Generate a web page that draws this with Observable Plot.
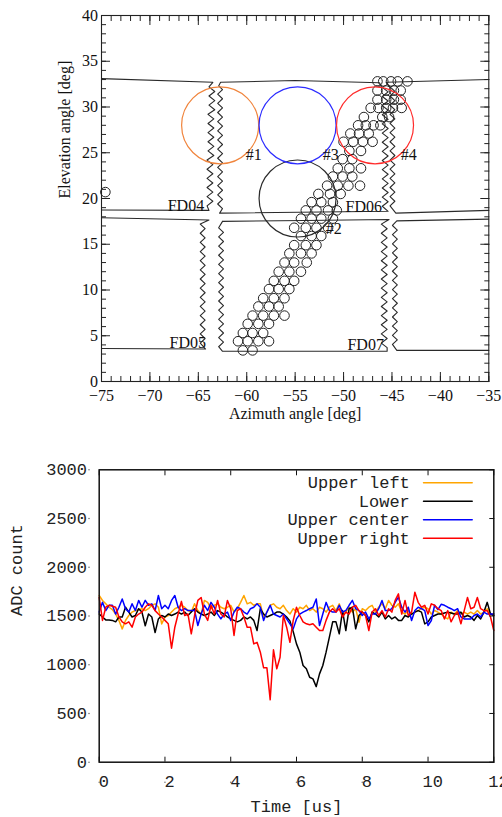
<!DOCTYPE html>
<html><head><meta charset="utf-8">
<script src="https://cdn.jsdelivr.net/npm/d3@7"></script>
<script src="https://cdn.jsdelivr.net/npm/@observablehq/plot@0.6"></script>
<style>
html,body{margin:0;padding:0;background:#fff;overflow:hidden;}
#top,#bottom{width:502px;}
svg{display:block;}
</style></head><body>
<div id="top"></div><div id="bottom"></div>
<script>
// ---------- Top panel data: FD camera outlines (azimuth, elevation in deg) ----------
const fd04Outline = [[-75,33.1],[-63.5,32.7],
 [-63.9,32.2],[-63.3,31.7],[-63.9,31.2],[-63.3,30.7],[-63.9,30.2],[-63.3,29.7],[-64.0,29.2],[-63.4,28.7],[-64.0,28.2],[-63.4,27.7],[-64.0,27.2],[-63.4,26.7],[-64.0,26.2],[-63.4,25.7],[-64.0,25.2],[-63.4,24.7],[-64.1,24.2],[-63.5,23.7],[-64.1,23.2],[-63.5,22.7],[-64.1,22.2],[-63.5,21.7],[-64.1,21.2],[-63.5,20.7],[-64.1,20.2],[-63.5,19.7],[-64.1,19.2],
 [-63.9,18.7],[-75,18.75]];
const fd05Outline = [[-75,17.9],[-63.9,17.65],
 [-64.8,17.2],[-64.3,16.7],[-64.8,16.2],[-64.3,15.7],[-64.8,15.2],[-64.3,14.7],[-64.8,14.2],[-64.3,13.7],[-64.8,13.2],[-64.3,12.7],[-64.8,12.2],[-64.3,11.7],[-64.8,11.2],[-64.3,10.7],[-64.8,10.2],[-64.3,9.7],[-64.8,9.2],[-64.3,8.7],[-64.8,8.2],[-64.3,7.7],[-64.8,7.2],[-64.3,6.7],[-64.8,6.2],[-64.3,5.7],[-64.8,5.2],[-64.3,4.7],[-64.8,4.2],
 [-64.25,3.55],[-75,3.6]];
const fd06Outline = [[-62.7,32.7],[-55,32.9],[-46.3,32.65],
 [-46.0,32.15],[-45.4,31.65],[-46.0,31.15],[-45.4,30.65],[-46.0,30.15],[-45.4,29.65],[-46.0,29.15],[-45.4,28.65],[-46.0,28.15],[-45.4,27.65],[-46.0,27.15],[-45.4,26.65],[-46.0,26.15],[-45.4,25.65],[-46.0,25.15],[-45.4,24.65],[-46.0,24.15],[-45.4,23.65],[-46.0,23.15],[-45.4,22.65],[-46.0,22.15],[-45.4,21.65],[-46.0,21.15],[-45.4,20.65],[-46.0,20.15],[-45.4,19.65],[-46.0,19.15],
 [-45.4,18.6],[-62.8,18.4],
 [-62.5,18.9],[-63.0,19.4],[-62.5,19.9],[-63.0,20.4],[-62.5,20.9],[-63.0,21.4],[-62.5,21.9],[-63.0,22.4],[-62.5,22.9],[-63.0,23.4],[-62.5,23.9],[-63.0,24.4],[-62.5,24.9],[-63.0,25.4],[-62.5,25.9],[-63.0,26.4],[-62.5,26.9],[-63.0,27.4],[-62.5,27.9],[-63.0,28.4],[-62.5,28.9],[-63.0,29.4],[-62.5,29.9],[-63.0,30.4],[-62.5,30.9],[-63.0,31.4],[-62.5,31.9],[-62.9,32.3],[-62.7,32.7]];
const fd07Outline = [[-62.5,17.5],[-54,17.6],[-45.3,17.7],
 [-46.1,17.2],[-45.5,16.7],[-46.1,16.2],[-45.5,15.7],[-46.1,15.2],[-45.5,14.7],[-46.1,14.2],[-45.5,13.7],[-46.1,13.2],[-45.5,12.7],[-46.1,12.2],[-45.5,11.7],[-46.1,11.2],[-45.5,10.7],[-46.1,10.2],[-45.5,9.7],[-46.1,9.2],[-45.5,8.7],[-46.1,8.2],[-45.5,7.7],[-46.1,7.2],[-45.5,6.7],[-46.1,6.2],[-45.5,5.7],[-46.1,5.2],[-45.5,4.7],[-46.1,4.2],[-45.5,3.7],
 [-45.5,3.3],[-62.5,3.3],
 [-62.9,3.8],[-62.4,4.3],[-62.9,4.8],[-62.4,5.3],[-62.9,5.8],[-62.4,6.3],[-62.9,6.8],[-62.4,7.3],[-62.9,7.8],[-62.4,8.3],[-62.9,8.8],[-62.4,9.3],[-62.9,9.8],[-62.4,10.3],[-62.9,10.8],[-62.4,11.3],[-62.9,11.8],[-62.4,12.3],[-62.9,12.8],[-62.4,13.3],[-62.9,13.8],[-62.4,14.3],[-62.9,14.8],[-62.4,15.3],[-62.9,15.8],[-62.4,16.3],[-62.9,16.8],[-62.5,17.5]];
const rightUpperOutline = [[-35,33.0],[-45.6,32.7],
 [-45.2,32.2],[-44.7,31.7],[-45.2,31.2],[-44.7,30.7],[-45.2,30.2],[-44.7,29.7],[-45.2,29.2],[-44.7,28.7],[-45.2,28.2],[-44.7,27.7],[-45.2,27.2],[-44.7,26.7],[-45.2,26.2],[-44.7,25.7],[-45.2,25.2],[-44.7,24.7],[-45.2,24.2],[-44.7,23.7],[-45.2,23.2],[-44.7,22.7],[-45.2,22.2],[-44.7,21.7],[-45.2,21.2],[-44.7,20.7],[-45.2,20.2],[-44.7,19.7],[-45.2,19.2],
 [-44.6,18.4],[-35,18.7]];
const rightLowerOutline = [[-35,17.75],[-44.5,17.55],
 [-44.95,17.05],[-44.45,16.55],[-44.95,16.05],[-44.45,15.55],[-44.95,15.05],[-44.45,14.55],[-44.95,14.05],[-44.45,13.55],[-44.95,13.05],[-44.45,12.55],[-44.95,12.05],[-44.45,11.55],[-44.95,11.05],[-44.45,10.55],[-44.95,10.05],[-44.45,9.55],[-44.95,9.05],[-44.45,8.55],[-44.95,8.05],[-44.45,7.55],[-44.95,7.05],[-44.45,6.55],[-44.95,6.05],[-44.45,5.55],[-44.95,5.05],[-44.45,4.55],[-44.95,4.05],
 [-44.5,3.4],[-35,3.4]];

const fdNames = ["FD04","FD06","FD05","FD07"];
const fdNameAz = [-64.4,-49.8,-64.2,-49.6];
const fdNameEl = [19.2,19.1,4.2,4.05];
const fdNameAnchor = ["end","start","end","start"];

// hit PMTs of the track, per row of elevation
const hitRowEl = [3.4,4.4,5.3,6.3,7.2,8.2,9.1,10.1,11.0,12.0,13.0,14.0,14.9,15.9,16.8,17.8,18.7,19.6,20.5,21.4,22.4,23.3,24.3,25.2,26.2,27.1,28.0,28.9,29.9,30.8,31.8,32.8,20.7];
const hitRowAz = [
 [-60.4,-59.4],
 [-60.9,-59.9,-58.8,-57.7],
 [-60.4,-59.4,-58.3],
 [-59.9,-58.8,-57.7],
 [-59.4,-58.3,-57.2,-56.1],
 [-58.8,-57.7,-56.7],
 [-58.3,-57.2,-56.1],
 [-57.7,-56.7,-55.6],
 [-57.2,-56.1,-55.1],
 [-56.7,-55.6,-54.4],
 [-56.1,-55.1,-53.8],
 [-55.6,-54.4,-53.3],
 [-55.1,-53.9,-52.8],
 [-54.4,-53.3,-52.3],
 [-55.1,-53.9,-52.8,-51.6],
 [-54.4,-53.3,-52.3,-51.1],
 [-53.9,-52.8,-51.6,-50.7],
 [-53.3,-52.3,-51.1],
 [-52.6,-51.4,-50.3],
 [-51.7,-50.6,-49.5,-48.3],
 [-51.1,-50.1,-49.1],
 [-50.6,-49.4,-48.2],
 [-50.1,-49.1],
 [-49.4,-48.2],
 [-50.0,-49.0,-48.0,-47.0],
 [-49.3,-48.4,-47.4],
 [-48.5,-47.7,-46.9,-46.2],
 [-47.9,-46.0,-45.3],
 [-47.2,-46.4,-45.6,-44.9,-44.0],
 [-46.5,-45.6,-44.8,-44.1],
 [-46.5,-45.6,-44.8,-44.1],
 [-46.5,-45.9,-45.1,-44.4,-43.4],
 [-74.6]
];

// SD-like "pixels" #1..#4
const pixelNames = ["#1","#2","#3","#4"];
const pixelAz = [-62.75,-54.75,-54.75,-46.75];
const pixelEl = [28,20,28,28];
const pixelColor = ["#f0843c","#2a2a2a","#2b2bff","#ff2b2b"];
const pixelLabelAz = [-60.1,-51.85,-52.15,-44.1];
const pixelLabelEl = [24.75,16.7,24.75,24.75];

const azMajor = [-75,-70,-65,-60,-55,-50,-45,-40,-35];
const azMinor = d3.range(-75,-34,1);
const elMajor = [0,5,10,15,20,25,30,35,40];
const elMinor = d3.range(0,41,1);

// ---------- Bottom panel data: ADC count, one sample every 0.1 us ----------
const sampleStepUs = 0.1;
const seriesNames = ["Upper left","Lower","Upper center","Upper right"];
const seriesColors = ["#ffa500","#000000","#0000ff","#ff0000"];
const upperLeft = [1710,1660,1625,1590,1565,1520,1454,1368,1454,1505,1540,1556,1565,1575,1556,1575,1610,1625,1590,1419,1488,1505,1540,1575,1590,1610,1590,1556,1540,
 1625,1556,1520,1660,1640,1575,1610,1625,1590,1575,1590,1610,1540,1575,1640,1710,1625,1640,1610,1625,1625,1488,1540,1610,1625,1590,1575,1610,1556,1520,
 1575,1540,1590,1575,1610,1556,1575,1540,1590,1575,1540,1590,1610,1556,1625,1520,1540,1590,1540,1575,1436,1575,1556,1590,1610,1540,1590,1625,1575,1660,
 1610,1590,1625,1540,1520,1556,1520,1540,1556,1575,1590,1575,1520,1556,1540,1520,1488,1470,1540,1520,1556,1520,1540,1520,1540,1520,1556,1520,1540,1575,1520,1520];
const lower = [1520,1490,1460,1460,1455,1440,1490,1490,1590,1540,1490,1505,1575,1540,1400,1520,1490,1330,1470,1505,1490,1520,1505,1520,1540,1520,1540,1505,1540,
 1575,1540,1520,1505,1520,1540,1505,1555,1540,1520,1490,1470,1455,1440,1455,1490,1470,1490,1455,1351,1575,1520,1490,1505,1520,1540,1540,1520,1490,1450,
 1340,1214,1129,992,958,872,855,775,906,992,1129,1283,1440,1440,1317,1556,1351,1575,1590,1368,1505,1540,1505,1440,1540,1520,1490,1540,1470,1505,
 1470,1490,1455,1455,1505,1490,1520,1540,1555,1540,1419,1440,1490,1505,1520,1520,1530,1540,1530,1520,1520,1540,1490,1505,1490,1455,1505,1470,1540,1640,1520,1505];
const upperCenter = [1540,1640,1556,1610,1610,1520,1590,1675,1575,1540,1625,1556,1660,1590,1660,1610,1625,1556,1710,1575,1610,1575,1660,1710,1590,1556,1575,1556,1556,
 1560,1402,1520,1610,1556,1640,1590,1520,1470,1520,1540,1454,1540,1590,1575,1540,1520,1575,1590,1625,1590,1454,1540,1610,1520,1505,1490,1520,1470,1419,
 1368,1470,1520,1540,1556,1575,1590,1675,1402,1520,1640,1556,1540,1540,1610,1540,1556,1610,1660,1575,1556,1505,1540,1470,1520,1520,1575,1660,1556,1556,
 1575,1640,1693,1590,1540,1590,1454,1556,1590,1575,1556,1402,1454,1610,1565,1620,1610,1590,1575,1556,1575,1490,1470,1470,1470,1505,1520,1490,1540,1520,1520,1520];
const upperRight = [1690,1455,1590,1610,1600,1590,1490,1440,1420,1440,1385,1490,1520,1540,1590,1625,1610,1555,1520,1490,1455,1420,1170,1385,1520,1650,1505,1520,1317,1505,1660,
 1690,1520,1455,1610,1520,1660,1520,1490,1660,1575,1300,1555,1575,1490,1385,1385,1214,1230,1129,968,968,640,1153,958,1077,1505,1385,1230,1455,1590,
 1505,1440,1420,1410,1420,1385,1351,1351,1455,1540,1575,1540,1575,1490,1540,1520,1590,1610,1555,1540,1505,1351,1540,1575,1505,1555,1490,1575,1540,1660,
 1727,1520,1660,1505,1540,1744,1640,1590,1610,1520,1625,1610,1575,1555,1470,1555,1440,1505,1540,1420,1555,1690,1575,1590,1690,1575,1555,1555,1490,1351];
const seriesValues = [upperLeft, lower, upperCenter, upperRight];
const timeTicks = [0,2,4,6,8,10,12];
const adcTicks = [0,500,1000,1500,2000,2500,3000];

// ---------- Top panel ----------
const serif = "'Liberation Serif','Times New Roman',serif";
const outlines = [fd04Outline, fd05Outline, fd06Outline, fd07Outline, rightUpperOutline, rightLowerOutline];
const hits = hitRowEl.flatMap((el, i) => hitRowAz[i].map(az => ({az, el})));
const pixels = pixelNames.map((n, i) => ({name: n, az: pixelAz[i], el: pixelEl[i], color: pixelColor[i], laz: pixelLabelAz[i], lel: pixelLabelEl[i]}));
const fdLabels = fdNames.map((n, i) => ({name: n, az: fdNameAz[i], el: fdNameEl[i], anchor: fdNameAnchor[i]}));

const topPlot = Plot.plot({
  width: 502, height: 430,
  marginLeft: 101, marginRight: 13.7, marginTop: 15, marginBottom: 49,
  x: {domain: [-75, -35]},
  y: {domain: [0, 40]},
  color: {type: "identity"},
  style: {fontFamily: serif, fontSize: "16px", color: "#111", background: "white"},
  marks: [
    ...outlines.map(pts => Plot.line(pts, {x: d => d[0], y: d => d[1], stroke: "#2a2a2a", strokeWidth: 1.1})),
    Plot.dot(hits, {x: "az", y: "el", r: 4.8, stroke: "#222", strokeWidth: 1, fill: "none"}),
    Plot.dot(pixels, {x: "az", y: "el", r: 38.5, stroke: "color", strokeWidth: 1.2, fill: "none"}),
    Plot.text(pixels, {x: "laz", y: "lel", text: "name", textAnchor: "start", fill: "#111"}),
    ...fdLabels.map(d => Plot.text([d], {x: "az", y: "el", text: "name", textAnchor: d.anchor, fill: "#111"})),
    Plot.frame({stroke: "#222", strokeWidth: 1.1}),
    Plot.axisX({ticks: azMinor, anchor: "bottom", tickSize: -5, fill: "none", label: null, stroke: "#222"}),
    Plot.axisX({ticks: azMinor, anchor: "top", tickSize: -5, fill: "none", label: null, stroke: "#222"}),
    Plot.axisX({ticks: azMajor, anchor: "bottom", tickSize: -9, fill: "none", label: null, stroke: "#222"}),
    Plot.axisX({ticks: azMajor, anchor: "top", tickSize: -9, fill: "none", label: null, stroke: "#222"}),
    Plot.axisY({ticks: elMinor, anchor: "left", tickSize: -5, fill: "none", label: null, stroke: "#222"}),
    Plot.axisY({ticks: elMinor, anchor: "right", tickSize: -5, fill: "none", label: null, stroke: "#222"}),
    Plot.axisY({ticks: elMajor, anchor: "left", tickSize: -9, fill: "none", label: null, stroke: "#222"}),
    Plot.axisY({ticks: elMajor, anchor: "right", tickSize: -9, fill: "none", label: null, stroke: "#222"}),
    Plot.axisX({ticks: azMajor, anchor: "bottom", tickSize: 0, tickPadding: 8, label: null, fill: "#111"}),
    Plot.axisY({ticks: elMajor, anchor: "left", tickSize: 0, tickPadding: 3.5, label: null, fill: "#111"}),
    Plot.text(["Azimuth angle [deg]"], {frameAnchor: "bottom", lineAnchor: "middle", dy: 32, fill: "#111"}),
    Plot.text(["Elevation angle [deg]"], {frameAnchor: "left", lineAnchor: "middle", rotate: -90, dx: -37, fill: "#111"})
  ]
});
document.getElementById("top").append(topPlot);

// ---------- Bottom panel ----------
const mono = "'Liberation Mono','DejaVu Sans Mono',monospace";
const legendStroke = {draw(context, l) { context.moveTo(0, 0); context.lineTo(0, -l); }};
const bottomPlot = Plot.plot({
  width: 502, height: 387,
  marginLeft: 98.7, marginRight: 8.7, marginTop: 39.3, marginBottom: 55.3,
  x: {domain: [0, 12]},
  y: {domain: [0, 3000]},
  style: {fontFamily: mono, fontSize: "17px", color: "#222", background: "white"},
  marks: [
    ...seriesValues.map((vals, k) => Plot.line(vals, {x: (d, i) => i * sampleStepUs, y: d => d, stroke: seriesColors[k], strokeWidth: 1.5})),
    Plot.frame({stroke: "#111", strokeWidth: 1.5}),
    Plot.axisX({ticks: timeTicks, anchor: "bottom", tickSize: -5, fill: "none", label: null, stroke: "#111"}),
    Plot.axisX({ticks: timeTicks, anchor: "top", tickSize: -5, fill: "none", label: null, stroke: "#111"}),
    Plot.axisY({ticks: adcTicks, anchor: "right", tickSize: -5, fill: "none", label: null, stroke: "#111"}),
    Plot.axisX({ticks: timeTicks, anchor: "bottom", tickSize: 0, tickPadding: 12.9, dx: 4.7, label: null, fill: "#222", tickFormat: d => String(d)}),
    Plot.axisY({ticks: adcTicks, anchor: "left", tickSize: 0, tickPadding: 12.2, label: null, fill: "#222", tickFormat: d => String(d)}),
    Plot.dot(timeTicks, {x: d => d, frameAnchor: "bottom", dy: 20, r: 0.8, fill: "#777", stroke: null}),
    Plot.dot(adcTicks, {y: d => d, frameAnchor: "left", dx: -10.2, r: 0.8, fill: "#777", stroke: null}),
    ...seriesNames.map((n, k) => Plot.text([n], {frameAnchor: "top-right", lineAnchor: "middle", dx: -84, dy: 13 + 18.45 * k, textAnchor: "end", fill: "#222"})),
    ...seriesNames.map((n, k) => Plot.vector([n], {frameAnchor: "top-right", dx: -70.3, dy: 13 + 18.45 * k, length: 48.7, rotate: 90, anchor: "start", shape: legendStroke, stroke: seriesColors[k], strokeWidth: 1.5})),
    Plot.text(["Time [us]"], {frameAnchor: "bottom", lineAnchor: "middle", dy: 44.5, fill: "#222"}),
    Plot.text(["ADC count"], {frameAnchor: "left", lineAnchor: "middle", rotate: -90, dx: -82.7, fill: "#222"})
  ]
});
document.getElementById("bottom").append(bottomPlot);
</script></body></html>
